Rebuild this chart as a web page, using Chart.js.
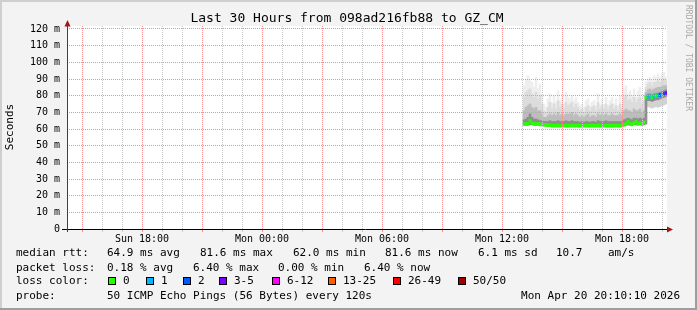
<!DOCTYPE html>
<html>
<head>
<meta charset="utf-8">
<script src="https://cdn.jsdelivr.net/npm/chart.js@4.4.1/dist/chart.umd.min.js"></script>
<style>
  html, body { margin: 0; padding: 0; background: #f3f3f3; }
  #graficoContainer { width: 697px; height: 310px; }
</style>
</head>
<body>
<div id="graficoContainer"><canvas id="graficoSmoke" width="697" height="310"></canvas></div>
<script>
// horas desde Sun 00:00, una muestra cada 6 minutos
const inicio = 37.1;
const paso = 0.1;

// mediana rtt (ms)
const mediana = [
  63.0, 63.0, 63.0, 65.0, 63.5, 63.0, 63.0, 63.0, 62.8, 62.8,
  62.5, 62.5, 62.3, 62.3, 62.0, 62.0, 62.0, 62.0, 62.0, 62.0,
  62.0, 62.0, 62.0, 62.0, 62.0, 62.0, 62.0, 62.0, 62.0, 62.0,
  62.0, 62.0, 62.0, 62.0, 62.0, 62.0, 62.0, 62.0, 62.0, 62.0,
  62.0, 62.0, 62.0, 62.0, 62.0, 62.0, 62.0, 62.0, 62.0, 62.0,
  62.5, 63.0, 64.5, 63.0, 62.8, 63.5, 64.5, 63.0, 63.5, 63.0,
  64.0, 79.0, 79.5, 79.5, 79.0, 79.5, 80.0, 80.0, 80.5, 81.0,
  81.2, 81.6
];

// pings perdidos de 50
const perdidos = [
  0, 0, 0, 0, 0, 0, 0, 0, 0, 0,
  0, 0, 0, 0, 0, 0, 0, 0, 0, 0,
  0, 0, 0, 0, 0, 0, 0, 0, 0, 0,
  0, 0, 0, 0, 0, 0, 0, 0, 0, 0,
  0, 0, 0, 0, 0, 0, 0, 0, 0, 0,
  0, 0, 0, 0, 0, 0, 0, 0, 0, 0,
  0, 0, 1, 1, 0, 1, 0, 1, 2, 1,
  2, 3
];

// humo (ms): base, inicio zona oscura, fin oscura, fin media, fin clara, maximo
const humoBase = [
  62.5, 62.5, 62.5, 62.5, 62.5, 62.5, 62.5, 62.3, 62.2, 62.2,
  62.0, 62.0, 61.8, 61.8, 61.6, 61.6, 61.6, 61.6, 61.6, 61.6,
  61.6, 61.6, 61.6, 61.6, 61.6, 61.6, 61.6, 61.6, 61.6, 61.6,
  61.6, 61.6, 61.6, 61.6, 61.6, 61.6, 61.6, 61.6, 61.6, 61.6,
  61.6, 61.6, 61.6, 61.6, 61.6, 61.6, 61.6, 61.6, 61.6, 61.6,
  62.0, 62.3, 62.5, 62.5, 62.3, 62.5, 62.5, 62.5, 62.5, 62.5,
  62.5, 63.0, 73.5, 73.0, 72.5, 73.0, 73.5, 73.0, 73.5, 74.0,
  74.5, 75.0
];
const humoMin = [
  62.5, 62.5, 62.5, 62.5, 62.5, 62.5, 62.5, 62.3, 62.2, 62.2,
  62.0, 62.0, 61.8, 61.8, 61.6, 61.6, 61.6, 61.6, 61.6, 61.6,
  61.6, 61.6, 61.6, 61.6, 61.6, 61.6, 61.6, 61.6, 61.6, 61.6,
  61.6, 61.6, 61.6, 61.6, 61.6, 61.6, 61.6, 61.6, 61.6, 61.6,
  61.6, 61.6, 61.6, 61.6, 61.6, 61.6, 61.6, 61.6, 61.6, 61.6,
  62.0, 62.3, 62.5, 62.5, 62.3, 62.5, 62.5, 62.5, 62.5, 62.5,
  62.5, 63.0, 77.0, 77.0, 76.5, 77.0, 77.5, 77.5, 78.0, 78.5,
  79.0, 79.5
];
const humoOscuro = [
  65.5, 66, 67, 69, 67, 66, 66, 65.5, 65, 65,
  64.5, 64.5, 64.5, 65, 64.5, 64.5, 64.5, 65, 64.5, 64.5,
  64.5, 65, 64.5, 64.5, 65, 64.5, 64.5, 64.5, 64, 64.5,
  64, 64.5, 64.5, 64, 64.5, 64.5, 64, 65, 64.5, 64.5,
  64.5, 65, 64.5, 64.5, 64.5, 64.5, 64.5, 64.5, 64.5, 64.5,
  65.5, 66, 66.5, 66, 65.5, 66.5, 66.5, 66, 66.5, 66,
  66.5, 80, 81, 81, 80.5, 81, 81.5, 81.5, 82, 82.5,
  83, 83.5
];
const humoMedio = [
  71, 73, 74, 75, 73, 72, 73, 71, 71, 69,
  67, 67, 68, 69, 68, 69, 68, 70, 68, 69,
  68, 69, 69, 69, 70, 68, 69, 68, 67, 68,
  67, 68, 69, 67, 68, 68, 67, 69, 68, 69,
  68, 69, 68, 68, 69, 68, 68, 68, 69, 68,
  71, 72, 71, 71, 70, 72, 71, 71, 72, 70,
  71, 82, 83.5, 84, 83, 84, 84.5, 85, 85, 85.5,
  86, 86
];
const humoClaro = [
  79, 82, 83, 84, 81, 79, 82, 78, 80, 75,
  71, 70, 73, 76, 72, 75, 72, 77, 73, 75,
  72, 76, 74, 75, 76, 73, 75, 73, 71, 72,
  70, 73, 74, 71, 73, 74, 71, 76, 72, 74,
  72, 75, 72, 74, 75, 72, 74, 71, 75, 72,
  79, 80, 77, 78, 76, 79, 76, 78, 79, 75,
  77, 85, 87, 88, 86, 88, 88, 89, 88, 89,
  90, 89
];
const humoMax = [
  86, 90, 92, 89, 88, 85, 91, 84, 87, 81,
  75, 73, 78, 81, 76, 80, 76, 83, 77, 79,
  75, 82, 79, 78, 80, 77, 79, 76, 74, 75,
  73, 77, 78, 74, 76, 77, 74, 81, 75, 78,
  75, 79, 74, 77, 79, 75, 78, 74, 80, 75,
  84, 86, 81, 83, 80, 84, 79, 83, 85, 79,
  81, 88, 90, 91, 89, 92, 91, 93, 91, 93,
  94, 91
];

// ejes
const horasEtiqueta = [18, 24, 30, 36, 42];
const etiquetasX = ['Sun 18:00', 'Mon 00:00', 'Mon 06:00', 'Mon 12:00', 'Mon 18:00'];
const xMin = 14.25, xMax = 44.25;
const yMax = 121.8;

// leyenda
const titulo = 'Last 30 Hours from 098ad216fb88 to GZ_CM';
const textoMediana = ['64.9 ms avg', '81.6 ms max', '62.0 ms min', '81.6 ms now', '6.1 ms sd', '10.7', 'am/s'];
const textoPerdida = ['0.18 % avg', '6.40 % max', '0.00 % min', '6.40 % now'];
const rangosPerdida = ['0', '1', '2', '3-5', '6-12', '13-25', '26-49', '50/50'];
const coloresPerdida = ['#26ff00', '#00b8ff', '#0059ff', '#7e00ff', '#ff00ff', '#ff5e00', '#ff0000', '#a10000'];
const textoSonda = '50 ICMP Echo Pings (56 Bytes) every 120s';
const fechaGrafico = 'Mon Apr 20 20:10:10 2026';

const tiempos = mediana.map((_, i) => inicio + i * paso);

function indiceColor(p) {
  if (p <= 2) return p;
  if (p <= 5) return 3;
  if (p <= 12) return 4;
  if (p <= 25) return 5;
  if (p <= 49) return 6;
  return 7;
}

function banda(a, b) {
  return tiempos.map((t, i) => ({ x: t, y: [a[i], b[i]] }));
}

const MONO = '"DejaVu Sans Mono", monospace';
const GRID_MAYOR = '#f59090';
const GRID_MENOR = '#c8c8c8';

const fondo = {
  id: 'fondo',
  beforeDraw(chart) {
    const { ctx, chartArea: a } = chart;
    ctx.save();
    ctx.fillStyle = '#f3f3f3';
    ctx.fillRect(0, 0, 697, 310);
    ctx.fillStyle = '#cfcfcf';
    ctx.fillRect(0, 0, 697, 2);
    ctx.fillRect(0, 0, 2, 310);
    ctx.fillStyle = '#9e9e9e';
    ctx.fillRect(0, 308, 697, 2);
    ctx.fillRect(695, 0, 2, 310);
    ctx.fillStyle = '#ffffff';
    ctx.fillRect(a.left, a.top, a.right - a.left, a.bottom - a.top);
    ctx.restore();
  },
  afterDraw(chart) {
    const { ctx, chartArea: a } = chart;
    ctx.save();

    // ejes con flechas
    ctx.strokeStyle = '#000';
    ctx.lineWidth = 1;
    ctx.beginPath();
    ctx.moveTo(62, a.bottom + 0.5);
    ctx.lineTo(a.right + 2, a.bottom + 0.5);
    ctx.stroke();
    ctx.strokeStyle = '#404040';
    ctx.beginPath();
    ctx.moveTo(a.left + 0.5, a.bottom + 3);
    ctx.lineTo(a.left + 0.5, a.top - 3);
    ctx.stroke();
    ctx.fillStyle = '#a01818';
    ctx.beginPath();
    ctx.moveTo(a.right, a.bottom - 2.5);
    ctx.lineTo(a.right + 6, a.bottom + 0.5);
    ctx.lineTo(a.right, a.bottom + 3.5);
    ctx.closePath();
    ctx.fill();
    ctx.beginPath();
    ctx.moveTo(a.left - 2.5, a.top + 0.5);
    ctx.lineTo(a.left + 0.5, a.top - 6);
    ctx.lineTo(a.left + 3.5, a.top + 0.5);
    ctx.closePath();
    ctx.fill();

    // titulo
    ctx.fillStyle = '#000';
    ctx.font = '13px ' + MONO;
    ctx.textAlign = 'center';
    ctx.textBaseline = 'middle';
    ctx.fillText(titulo, 347, 19);

    // titulo eje y
    ctx.save();
    ctx.translate(10, 127);
    ctx.rotate(-Math.PI / 2);
    ctx.font = '11px ' + MONO;
    ctx.fillText('Seconds', 0, 0);
    ctx.restore();

    // marca de agua
    ctx.save();
    ctx.translate(688, 5);
    ctx.rotate(Math.PI / 2);
    ctx.font = '8px ' + MONO;
    ctx.textAlign = 'left';
    ctx.fillStyle = '#a8a8a8';
    ctx.fillText('RRDTOOL / TOBI OETIKER', 0, 0);
    ctx.restore();

    // leyenda
    ctx.font = '11px ' + MONO;
    ctx.textAlign = 'left';
    ctx.fillStyle = '#000';
    ctx.fillText('median rtt:', 16, 253.5);
    const xsMediana = [107, 200, 293, 385, 478, 556, 608];
    textoMediana.forEach((t, i) => ctx.fillText(t, xsMediana[i], 253.5));

    ctx.fillText('packet loss:', 16, 268.5);
    const xsPerdida = [107, 193, 278, 364];
    textoPerdida.forEach((t, i) => ctx.fillText(t, xsPerdida[i], 268.5));

    ctx.fillText('loss color:', 16, 281.5);
    const xsCaja = [108, 146, 183, 219, 272, 328, 393, 458];
    rangosPerdida.forEach((t, i) => {
      ctx.fillStyle = coloresPerdida[i];
      ctx.fillRect(xsCaja[i], 277, 8, 8);
      ctx.strokeStyle = '#000';
      ctx.strokeRect(xsCaja[i] + 0.5, 277.5, 7, 7);
      ctx.fillStyle = '#000';
      ctx.fillText(t, xsCaja[i] + 15, 281.5);
    });

    ctx.fillText('probe:', 16, 296);
    ctx.fillText(textoSonda, 107, 296);
    ctx.textAlign = 'right';
    ctx.fillText(fechaGrafico, 680, 296);

    ctx.restore();
  }
};

const ctx = document.getElementById('graficoSmoke').getContext('2d');

const chart = new Chart(ctx, {
  type: 'bar',
  data: {
    datasets: [
      {
        label: 'median',
        data: tiempos.map((t, i) => ({ x: t, y: [mediana[i] - 0.9, mediana[i] + 0.9] })),
        backgroundColor: perdidos.map(p => coloresPerdida[indiceColor(p)])
      },
      { label: 'smoke1', data: banda(humoMin, humoOscuro), backgroundColor: '#8e8e8e' },
      { label: 'smoke0', data: banda(humoBase, humoMin), backgroundColor: '#d2d2d2' },
      { label: 'smoke2', data: banda(humoOscuro, humoMedio), backgroundColor: '#bdbdbd' },
      { label: 'smoke3', data: banda(humoMedio, humoClaro), backgroundColor: '#dcdcdc' },
      { label: 'smoke4', data: banda(humoClaro, humoMax), backgroundColor: '#eeeeee' }
    ]
  },
  options: {
    responsive: false,
    animation: false,
    devicePixelRatio: 1,
    layout: { padding: { top: 26, right: 30, left: 0, bottom: 0 } },
    datasets: {
      bar: { grouped: false, barThickness: 2, borderWidth: 0 }
    },
    plugins: {
      legend: { display: false },
      tooltip: { enabled: false },
      title: { display: false }
    },
    scales: {
      x: {
        type: 'linear',
        min: xMin,
        max: xMax,
        offset: false,
        afterFit: s => { s.height = 81; },
        afterBuildTicks: s => {
          const t = [];
          for (let h = 15; h <= 44; h++) t.push({ value: h });
          s.ticks = t;
        },
        border: { display: false, dash: [1, 1] },
        grid: {
          offset: false,
          z: 1,
          color: c => ((15 + c.index) % 3 === 0 ? GRID_MAYOR : GRID_MENOR),
          tickLength: 3,
          drawTicks: true
        },
        ticks: {
          autoSkip: false,
          maxRotation: 0,
          padding: 1,
          color: '#000',
          font: { family: MONO, size: 10 },
          callback: v => {
            const k = horasEtiqueta.indexOf(v);
            return k >= 0 ? etiquetasX[k] : '';
          }
        }
      },
      y: {
        min: 0,
        max: yMax,
        afterFit: s => { s.width = 67; },
        afterBuildTicks: s => {
          const t = [];
          for (let v = 0; v <= 120; v += 5) t.push({ value: v });
          s.ticks = t;
        },
        border: { display: false, dash: [1, 1] },
        grid: {
          z: 1,
          color: c => {
            const v = c.index * 5;
            if (v === 0) return 'rgba(0,0,0,0)';
            return v % 10 === 0 ? GRID_MAYOR : GRID_MENOR;
          },
          drawTicks: false
        },
        ticks: {
          padding: 7,
          color: '#000',
          font: { family: MONO, size: 10 },
          callback: v => v % 10 !== 0 ? '' : (v === 0 ? '0' : v + ' m')
        }
      }
    }
  },
  plugins: [fondo]
});
</script>
</body>
</html>
